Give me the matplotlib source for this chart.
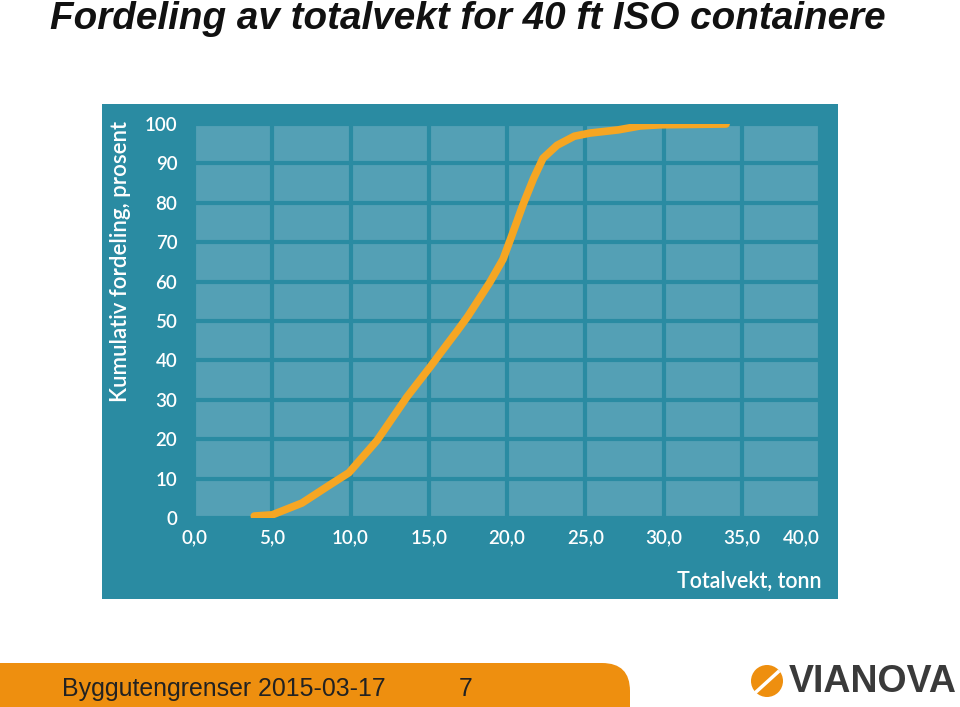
import matplotlib
matplotlib.use("Agg")
from matplotlib import pyplot as plt
from matplotlib.patches import Rectangle, FancyBboxPatch, Circle

# kumulativ fordeling lest av bildet
vekt = [3.85, 5.0, 6.9, 8.6, 9.9, 11.7, 13.6, 15.1, 15.7, 16.8, 17.5, 18.9,
        19.75, 20.3, 21.0, 21.7, 22.3, 23.2, 24.3, 25.3, 27.1, 28.5, 29.8, 34.0]
prosent = [0.5, 0.8, 3.8, 8.2, 11.5, 19.7, 30.7, 38.4, 41.6, 47.4, 51.2, 59.8,
           65.7, 71.6, 79.3, 86.2, 91.3, 94.6, 96.9, 97.7, 98.5, 99.5, 99.8, 100.0]

x_ticks = [0, 5, 10, 15, 20, 25, 30, 35, 40]
x_labels = ["0,0", "5,0", "10,0", "15,0", "20,0", "25,0", "30,0", "35,0", "40,0"]
y_ticks = [0, 10, 20, 30, 40, 50, 60, 70, 80, 90, 100]

title = "Fordeling av totalvekt for 40 ft ISO containere"
footer = "Byggutengrenser 2015-03-17"
page = "7"

PANEL = "#2a8ba2"
CELL = "#54a0b5"
ORANGE = "#f6a623"
arial = ["Liberation Sans", "DejaVu Sans"]

fig = plt.figure(figsize=(9.6, 7.07), dpi=100)

# bakgrunn i pikselkoordinater
bg = fig.add_axes([0, 0, 1, 1])
bg.set_xlim(0, 960)
bg.set_ylim(707, 0)
bg.axis("off")

bg.add_patch(Rectangle((102, 104), 736, 495, facecolor=PANEL, edgecolor="none"))
bg.add_patch(FancyBboxPatch((-40, 663), 670, 90, boxstyle="round,pad=0,rounding_size=28",
                            facecolor="#ee8f0f", edgecolor="none"))

bg.text(50, 1, title, fontsize=27.8, fontweight="bold", fontstyle="italic",
        family=arial, color="#111111", ha="left", va="top")
bg.text(62, 689, footer, fontsize=17.9, family=arial, color="#222222", ha="left", va="center")
bg.text(466, 689, page, fontsize=17.9, family=arial, color="#222222", ha="center", va="center")

# logo
bg.add_patch(Circle((767, 681), 16, facecolor="#ee8f0f", edgecolor="none"))
bg.plot([756, 778], [692, 672], color="white", lw=2.5)
bg.text(789, 682, "VIANOVA", fontsize=27, fontweight="bold", family=arial,
        color="#3a3a3a", ha="left", va="center")

# selve diagrammet
ax = fig.add_axes([194 / 960, 1 - 518 / 707, 626 / 960, 394 / 707])
ax.set_facecolor(CELL)
ax.plot(vekt, prosent, color=ORANGE, lw=5.5, solid_capstyle="round", solid_joinstyle="round", zorder=3)

ax.set_xlim(0, 40)
ax.set_ylim(0, 100)
ax.set_xticks(x_ticks)
ax.set_xticklabels(x_labels)
ax.set_yticks(y_ticks)
for s in ax.spines.values():
    s.set_visible(False)
ax.grid(True, color=PANEL, lw=3)
ax.set_axisbelow(True)
ax.tick_params(length=0, colors="white", labelsize=13.5)
ax.tick_params(axis="y", pad=12)
ax.tick_params(axis="x", pad=8)
for lab in ax.get_xticklabels() + ax.get_yticklabels():
    lab.set_family("Lato")
    lab.set_fontweight("semibold")
ax.get_xticklabels()[-1].set_ha("right")
ax.get_xticklabels()[-1].set_x(40.4)

ax.text(-0.118, 0.65, "Kumulativ fordeling, prosent", transform=ax.transAxes, rotation=90,
        ha="center", va="center", color="white", fontsize=16, family="Lato", fontweight="semibold")
ax.text(1.003, -0.16, "Totalvekt, tonn", transform=ax.transAxes, ha="right", va="center",
        color="white", fontsize=15.5, family="Lato", fontweight="semibold")

fig.savefig("out.png", dpi=100)
